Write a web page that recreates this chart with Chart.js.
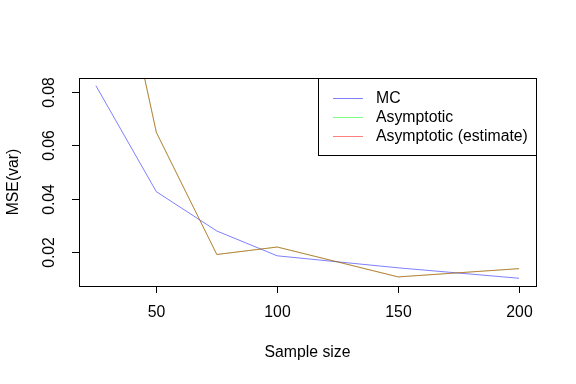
<!DOCTYPE html>
<html>
<head>
<meta charset="utf-8">
<script src="https://cdn.jsdelivr.net/npm/chart.js@4/dist/chart.umd.min.js"></script>
<style>
  html, body { margin: 0; padding: 0; background: #fff; }
  #wrap { width: 576px; height: 384px; }
</style>
</head>
<body>
<div id="wrap"><canvas id="chart" width="576" height="384"></canvas></div>
<script>
// Donnees
const sampleSizes = [25, 50, 75, 100, 150, 200];
const mcValues = [0.0823, 0.0426, 0.0279, 0.0186, 0.0141, 0.0102];
const asymValues = [0.169, 0.0648, 0.0191, 0.0219, 0.0107, 0.0138];
const asymEstValues = [0.169, 0.0648, 0.0191, 0.0219, 0.0107, 0.0138];
const xTicks = [50, 100, 150, 200];
const yTicks = [0.02, 0.04, 0.06, 0.08];
const seriesNames = ['MC', 'Asymptotic', 'Asymptotic (estimate)'];
const seriesColors = ['rgba(0,0,255,0.5)', 'rgba(0,255,0,0.5)', 'rgba(255,0,0,0.5)'];

const FONT = '15.8px "Liberation Sans", Arial, sans-serif';

function toPoints(values) {
    return sampleSizes.map((x, i) => ({ x: x, y: values[i] }));
}

// Dessin facon R : cadre, graduations, titres et legende
const rStyle = {
    id: 'rStyle',
    afterDraw(chart) {
        const ctx = chart.ctx;
        const area = chart.chartArea;
        const xs = chart.scales.x;
        const ys = chart.scales.y;
        ctx.save();
        ctx.strokeStyle = '#000';
        ctx.lineWidth = 1;
        ctx.strokeRect(area.left + 0.5, area.top + 0.5, area.right - area.left, area.bottom - area.top);

        ctx.fillStyle = '#000';
        ctx.font = FONT;
        // axe x
        ctx.beginPath();
        ctx.moveTo(xs.getPixelForValue(xTicks[0]), area.bottom + 0.5);
        ctx.lineTo(xs.getPixelForValue(xTicks[xTicks.length - 1]), area.bottom + 0.5);
        ctx.stroke();
        ctx.textAlign = 'center';
        ctx.textBaseline = 'middle';
        xTicks.forEach(v => {
            const px = Math.round(xs.getPixelForValue(v)) + 0.5;
            ctx.beginPath();
            ctx.moveTo(px, area.bottom);
            ctx.lineTo(px, area.bottom + 7);
            ctx.stroke();
            ctx.fillText(String(v), px, 313);
        });
        // axe y
        ctx.beginPath();
        ctx.moveTo(area.left + 0.5, ys.getPixelForValue(yTicks[0]));
        ctx.lineTo(area.left + 0.5, ys.getPixelForValue(yTicks[yTicks.length - 1]));
        ctx.stroke();
        yTicks.forEach(v => {
            const py = Math.round(ys.getPixelForValue(v)) + 0.5;
            ctx.beginPath();
            ctx.moveTo(area.left, py);
            ctx.lineTo(area.left - 7, py);
            ctx.stroke();
            ctx.save();
            ctx.translate(50, py);
            ctx.rotate(-Math.PI / 2);
            ctx.fillText(v.toFixed(2), 0, 0);
            ctx.restore();
        });

        // titres
        ctx.fillText('Sample size', (area.left + area.right) / 2, 353);
        ctx.save();
        ctx.translate(14, (area.top + area.bottom) / 2);
        ctx.rotate(-Math.PI / 2);
        ctx.fillText('MSE(var)', 0, 0);
        ctx.restore();

        // legende
        const boxLeft = 318.5;
        const boxBottom = 155.5;
        ctx.fillStyle = '#fff';
        ctx.fillRect(boxLeft, area.top + 0.5, area.right - boxLeft, boxBottom - area.top - 0.5);
        ctx.strokeRect(boxLeft, area.top + 0.5, area.right + 0.5 - boxLeft, boxBottom - area.top - 0.5);
        ctx.textAlign = 'left';
        ctx.fillStyle = '#000';
        const rows = [98, 117, 136];
        seriesNames.forEach((name, i) => {
            ctx.strokeStyle = seriesColors[i];
            ctx.beginPath();
            ctx.moveTo(333, rows[i] + 0.5);
            ctx.lineTo(363, rows[i] + 0.5);
            ctx.stroke();
            ctx.fillText(name, 376, rows[i] + 1);
        });
        ctx.restore();
    }
};

// ordre de dessin comme R : MC d'abord, l'estimation par-dessus
const drawOrder = [3, 2, 1];
const datasets = [mcValues, asymValues, asymEstValues].map((vals, i) => ({
    label: seriesNames[i],
    data: toPoints(vals),
    borderColor: seriesColors[i],
    borderWidth: 1,
    pointRadius: 0,
    tension: 0,
    fill: false,
    order: drawOrder[i]
}));

new Chart(document.getElementById('chart').getContext('2d'), {
    type: 'line',
    data: { datasets: datasets },
    options: {
        responsive: false,
        animation: false,
        layout: { padding: { top: 78, right: 40, left: 0, bottom: 0 } },
        plugins: { legend: { display: false }, tooltip: { enabled: false } },
        scales: {
            x: {
                type: 'linear',
                min: 18,
                max: 207,
                grid: { display: false, drawTicks: false },
                border: { display: false },
                ticks: { display: false },
                afterFit(scale) { scale.height = 98; }
            },
            y: {
                type: 'linear',
                min: 0.0073,
                max: 0.0852,
                grid: { display: false, drawTicks: false },
                border: { display: false },
                ticks: { display: false },
                afterFit(scale) { scale.width = 79; }
            }
        }
    },
    plugins: [rStyle]
});
</script>
</body>
</html>
